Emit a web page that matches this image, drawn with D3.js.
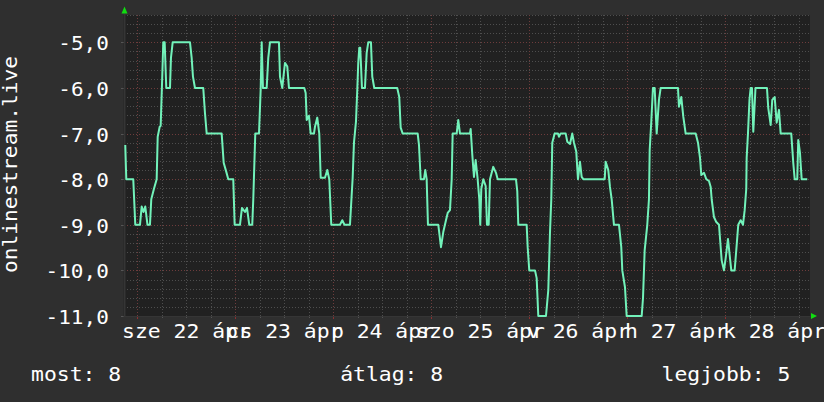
<!DOCTYPE html>
<html><head><meta charset="utf-8">
<script src="https://cdn.jsdelivr.net/npm/d3@7"></script>
<style>html,body{margin:0;padding:0;background:#2f2f2f;overflow:hidden}svg{display:block}</style>
</head><body><svg id="chart" width="824" height="402"></svg>
<script>
// ---- data ----
const baseDate = new Date(2015, 3, 22, 0, 0); // szerda, 22 ápr 2015 00:00
const windowHours = [-3.3, 164.7];            // visible time range, hours from baseDate
const hours = [-2.99,-2.74,-1.03,-0.54,0.61,1.03,1.47,1.91,2.45,3.06,3.38,4.04,4.70,4.95,5.44,5.68,6.07,6.32,6.66,7.05,7.96,8.20,8.62,12.86,13.27,13.59,14.08,16.11,16.53,16.95,20.62,21.11,21.75,22.24,23.46,23.80,25.10,25.59,26.33,26.82,27.38,28.11,28.36,28.85,29.76,30.17,30.42,30.73,31.64,32.03,32.45,34.65,34.90,35.46,36.12,36.69,37.10,40.85,41.19,41.44,42.00,42.42,43.22,43.47,44.03,44.52,44.87,45.92,46.48,46.97,47.46,49.59,50.16,50.69,52.04,52.70,53.02,53.51,53.83,54.07,54.32,54.56,54.98,55.71,56.13,56.52,57.18,57.50,57.99,63.62,64.11,64.46,64.95,68.62,68.94,69.36,70.16,70.48,70.82,71.14,73.67,74.33,74.89,75.55,75.97,76.53,76.95,77.19,78.17,78.56,78.98,81.43,81.60,81.99,82.41,82.82,83.31,83.71,83.95,84.20,84.69,85.27,85.59,86.01,86.33,87.13,87.80,88.21,92.69,93.01,93.26,95.31,95.56,95.95,97.35,97.76,98.16,100.04,100.61,101.02,101.34,101.58,102.17,102.98,103.22,103.64,104.87,105.26,105.92,106.48,106.90,107.46,107.88,108.37,108.78,109.18,114.42,114.66,115.30,115.71,116.13,116.69,117.92,118.48,118.73,119.39,119.80,123.48,123.80,124.21,124.85,125.26,125.44,125.83,126.24,126.66,127.15,127.71,128.13,132.37,132.61,133.18,133.67,134.25,136.70,137.27,137.76,138.08,138.74,139.30,139.96,140.38,140.62,141.18,141.75,142.41,143.07,143.63,144.05,144.61,145.42,146.25,146.64,147.13,147.72,148.29,148.70,149.09,149.19,149.51,149.88,150.17,150.49,150.81,151.35,151.79,154.16,154.48,155.07,155.46,156.05,156.54,157.10,157.52,160.11,160.60,160.95,161.58,161.82,162.24,162.66,164.03];
const values = [-7.25,-8,-8,-9,-9,-8.6,-8.72,-8.6,-9,-9,-8.44,-8.21,-8,-7.07,-6.85,-6.83,-5.75,-5,-5,-6,-6,-5.34,-5,-5,-5.34,-5.75,-6,-6,-6.55,-7,-7,-7.64,-7.84,-8,-8,-9,-9,-8.63,-8.72,-8.63,-9,-9,-8.44,-7,-7,-6.04,-5,-6,-6,-5.34,-5,-5,-5.75,-6,-5.45,-5.53,-6,-6,-6.11,-6.7,-6.61,-7,-7,-6.85,-6.65,-7,-7.97,-7.97,-7.8,-8,-9,-9,-8.9,-9,-9,-7.97,-7.2,-6.74,-6.04,-5.45,-5.12,-5.12,-6,-6,-5.23,-5,-5,-5.75,-6,-6,-6.2,-6.87,-7,-7,-7.25,-8,-8,-7.8,-8,-9,-9,-9.49,-9.16,-8.9,-8.74,-8.68,-8,-7,-7,-6.7,-7,-7,-6.9,-7.46,-7.95,-7.58,-8,-8.44,-9,-8.21,-8,-8.15,-9,-9,-8,-7.73,-7.86,-8,-8,-8.26,-9,-9,-9.49,-10,-10,-10.17,-11,-11,-10.43,-9.18,-8.44,-7.2,-7,-7,-7.07,-7,-7,-7.18,-7.23,-7,-7.2,-7.4,-8,-7.62,-7.95,-8,-8,-7.62,-7.8,-8.17,-8.44,-9,-9,-9.49,-10,-10.37,-11,-11,-10.61,-9.56,-9,-8.44,-7.36,-6.74,-6,-6,-7,-6.26,-6,-6,-6.41,-6.2,-6.63,-7,-7,-7.2,-7.53,-7.91,-7.86,-8,-8.04,-8.17,-8.44,-8.83,-8.94,-9,-9.78,-10,-9.73,-9.31,-10,-10,-9.56,-9,-8.9,-9,-8.68,-8.21,-7.53,-7,-6.26,-6,-6,-6.96,-6,-6,-6,-6.44,-6.81,-6.26,-6.2,-6.76,-6.48,-7,-7,-7.64,-8,-8,-7.14,-7.42,-8,-8];
const dayLabels = ["sze 22 ápr","cs 23 ápr","p 24 ápr","szo 25 ápr","v 26 ápr","h 27 ápr","k 28 ápr"];
const yTicks = [-5,-6,-7,-8,-9,-10,-11];
const yDomain = [-11, -4.4];
const seriesName = "onlinestream.live";
const legendLabels = ["most: 8", "átlag: 8", "legjobb: 5"];

// ---- drawing ----
const svg = d3.select("#chart");
const W = 824, H = 402;
const plot = {left: 124, right: 810, top: 15, bottom: 316};
const hAt = h => new Date(baseDate.getTime() + h * 3600e3);

const x = d3.scaleTime().domain(windowHours.map(hAt)).range([plot.left, plot.right]);
const y = d3.scaleLinear().domain(yDomain).range([plot.bottom, plot.top]);

const FONT = "'DejaVu Sans Mono', monospace";
const TXT = "#ffffff";

svg.append("rect").attr("width", W).attr("height", H).attr("fill", "#2f2f2f");
svg.append("rect").attr("x", plot.left - 1).attr("y", plot.top)
  .attr("width", plot.right - plot.left + 1).attr("height", plot.bottom - plot.top)
  .attr("fill", "#212121");

// grid
const g = svg.append("g");
const minorY = d3.range(0, 34).map(i => +(yDomain[0] + i * 0.2).toFixed(1)).filter(v => v <= yDomain[1] && Math.abs(v - Math.round(v)) > 1e-6);
const [t0, t1] = x.domain();
const sixH = d3.timeHour.every(6).range(t0, t1).filter(d => d.getHours() !== 0);
const days = d3.timeDay.range(t0, t1);
const minorC = "#4e4e4e", majorC = "#6e3c3c", dash = "1,2";

g.selectAll(".mh").data(minorY).join("line")
  .attr("x1", plot.left).attr("x2", plot.right)
  .attr("y1", d => Math.round(y(d)) + 0.5).attr("y2", d => Math.round(y(d)) + 0.5)
  .attr("stroke", minorC).attr("stroke-dasharray", dash);
g.selectAll(".mv").data(sixH).join("line")
  .attr("x1", d => Math.round(x(d)) + 0.5).attr("x2", d => Math.round(x(d)) + 0.5)
  .attr("y1", plot.top).attr("y2", plot.bottom)
  .attr("stroke", minorC).attr("stroke-dasharray", dash);
g.selectAll(".Mh").data(yTicks).join("line")
  .attr("x1", plot.left).attr("x2", plot.right)
  .attr("y1", d => Math.round(y(d)) + 0.5).attr("y2", d => Math.round(y(d)) + 0.5)
  .attr("stroke", majorC).attr("stroke-dasharray", dash);
g.selectAll(".Mv").data(days).join("line")
  .attr("x1", d => Math.round(x(d)) + 0.5).attr("x2", d => Math.round(x(d)) + 0.5)
  .attr("y1", plot.top).attr("y2", plot.bottom)
  .attr("stroke", majorC).attr("stroke-dasharray", dash);

// tick marks
g.selectAll(".tx").data(sixH).join("line")
  .attr("x1", d => Math.round(x(d)) + 0.5).attr("x2", d => Math.round(x(d)) + 0.5)
  .attr("y1", plot.bottom).attr("y2", plot.bottom + 2).attr("stroke", "#555");
g.selectAll(".tX").data(days).join("line")
  .attr("x1", d => Math.round(x(d)) + 0.5).attr("x2", d => Math.round(x(d)) + 0.5)
  .attr("y1", plot.bottom).attr("y2", plot.bottom + 3).attr("stroke", "#8a3030");
g.selectAll(".ty").data(yTicks).join("line")
  .attr("x1", plot.left - 3).attr("x2", plot.left)
  .attr("y1", d => Math.round(y(d)) + 0.5).attr("y2", d => Math.round(y(d)) + 0.5)
  .attr("stroke", "#555");

// axes lines
svg.append("line").attr("x1", plot.left + 0.5).attr("x2", plot.left + 0.5)
  .attr("y1", plot.top - 2).attr("y2", plot.bottom + 1).attr("stroke", "#353535").attr("stroke-width", 2);
svg.append("line").attr("x1", plot.left).attr("x2", plot.right + 1)
  .attr("y1", plot.bottom + 0.5).attr("y2", plot.bottom + 0.5).attr("stroke", "#353535");

// arrows
svg.append("path").attr("d", `M${plot.left - 2.5},${plot.top - 1.5} L${plot.left + 3.5},${plot.top - 1.5} L${plot.left + 0.5},${plot.top - 8.5} Z`).attr("fill", "#11dd11");
svg.append("path").attr("d", `M${plot.right + 1},${plot.bottom - 3} L${plot.right + 1},${plot.bottom + 3} L${plot.right + 7},${plot.bottom} Z`).attr("fill", "#11dd11");

// series line
const pts = hours.map((h, i) => [hAt(h), values[i]]);
svg.append("path").datum(pts)
  .attr("fill", "none").attr("stroke", "#72f2ba").attr("stroke-width", 2)
  .attr("stroke-linejoin", "round")
  .attr("d", d3.line().x(d => x(d[0])).y(d => y(d[1])));

// text helper
function label(px, py, str, anchor, sx, rot) {
  svg.append("text")
    .attr("transform", `translate(${px},${py})` + (rot ? ` rotate(${rot})` : "") + ` scale(${sx},1)`)
    .attr("text-anchor", anchor)
    .attr("font-family", FONT).attr("font-size", 20).attr("fill", TXT)
    .text(str);
}

// y labels
const fmt = d3.formatLocale({decimal: ",", thousands: " ", grouping: [3], currency: ["", ""], minus: "-"}).format(".1f");
yTicks.forEach(v => label(108.8, Math.round(y(v)) + 7.5, fmt(v), "end", 1.05));

// x labels, centred at noon of each day
dayLabels.forEach((s, i) => label(x(hAt(12 + 24 * i)), 338, s, "middle", 1.07));

// title
label(16.7, 164.5, seriesName, "middle", 1.06, -90);

// legend
label(31, 380.5, legendLabels[0], "start", 1.07);
label(340.2, 380.5, legendLabels[1], "start", 1.07);
label(661.5, 380.5, legendLabels[2], "start", 1.07);
</script></body></html>
